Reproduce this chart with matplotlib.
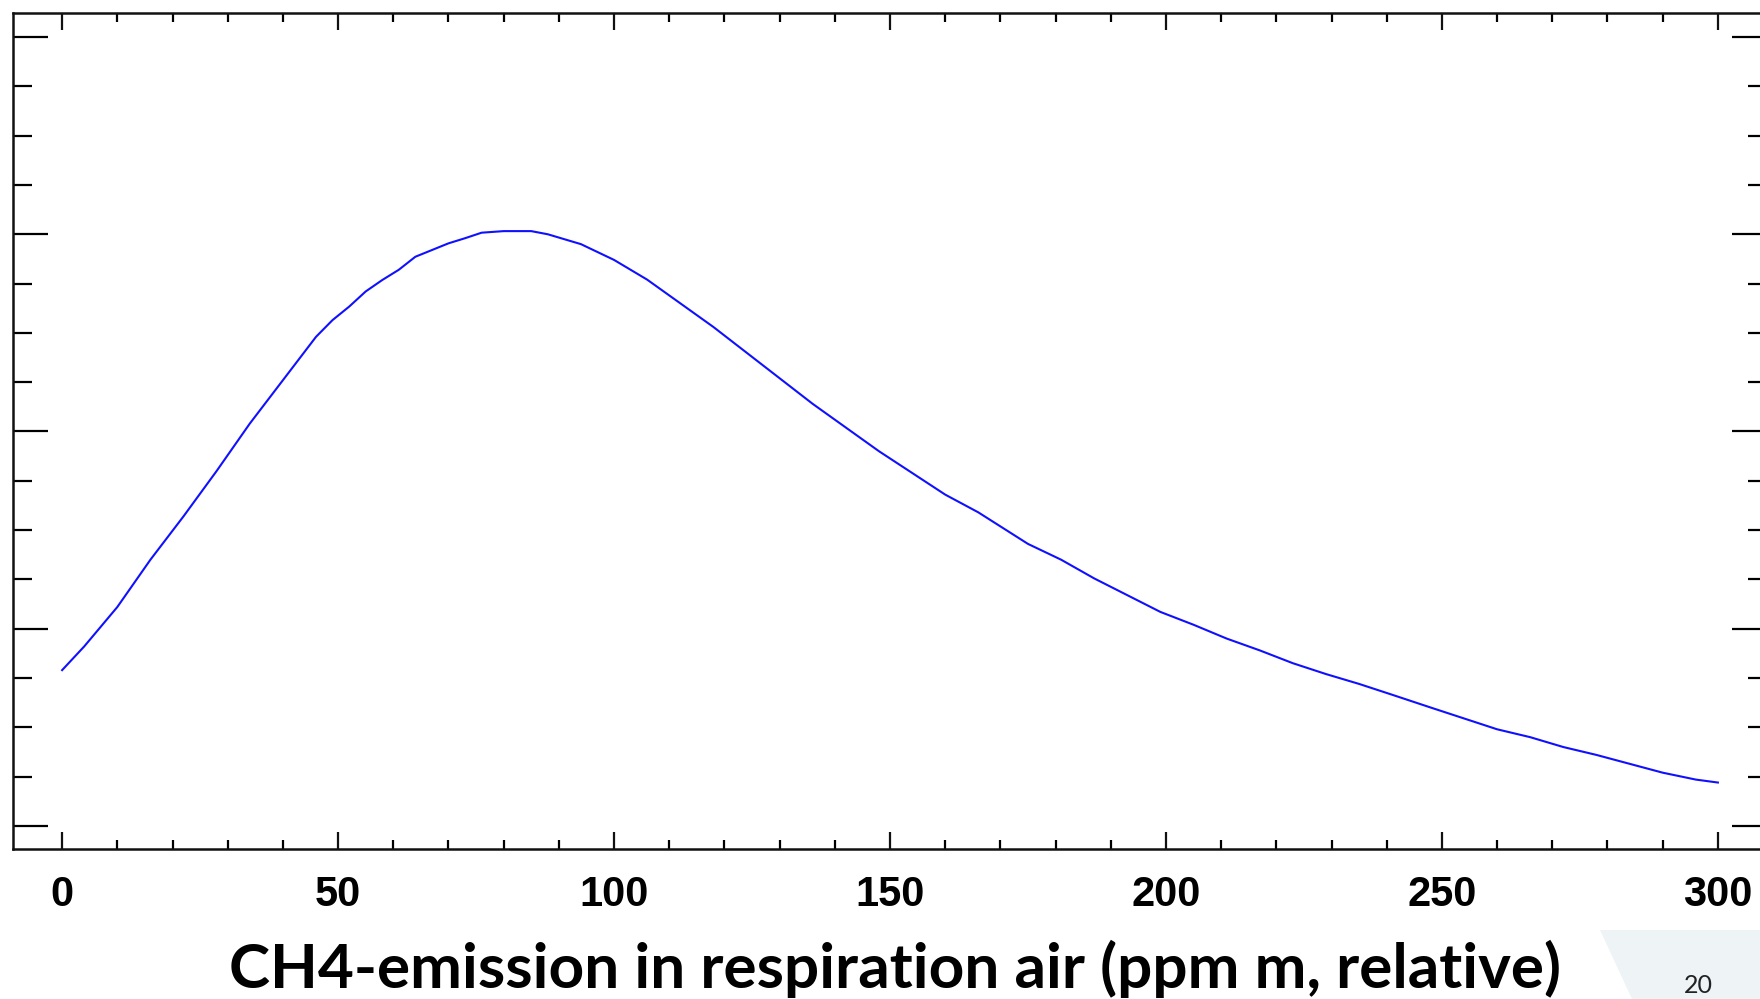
import matplotlib
matplotlib.use("Agg")
import matplotlib.pyplot as plt
from matplotlib.patches import Polygon
from matplotlib.ticker import MultipleLocator

# CH4 emission curve (relative units, 4 major y steps)
ppm = [0, 4, 10, 16, 22, 28, 34, 40, 46, 49, 52, 55, 58, 61, 64, 67, 70,
       73, 76, 80, 85, 88, 94, 100, 106, 112, 118, 124, 130, 136, 142, 148,
       154, 160, 166, 175, 181, 187, 193, 199, 205, 211, 217, 223, 229, 235,
       241, 248, 254, 260, 266, 272, 278, 284, 290, 296, 300]
level = [0.79, 0.91, 1.11, 1.35, 1.57, 1.80, 2.04, 2.26, 2.48, 2.565, 2.633,
         2.71, 2.768, 2.82, 2.886, 2.92, 2.954, 2.98, 3.008, 3.016, 3.016,
         3.00, 2.95, 2.87, 2.77, 2.65, 2.53, 2.40, 2.27, 2.14, 2.02, 1.90,
         1.79, 1.68, 1.59, 1.43, 1.35, 1.255, 1.17, 1.085, 1.02, 0.95, 0.89,
         0.825, 0.77, 0.72, 0.665, 0.60, 0.545, 0.49, 0.45, 0.40, 0.36, 0.315,
         0.27, 0.235, 0.22]

x_major = [0, 50, 100, 150, 200, 250, 300]
x_labels = [str(v) for v in x_major]
xlabel = "CH4-emission in respiration air (ppm m, relative)"
page_no = "20"

W, H = 1760, 999
fig = plt.figure(figsize=(W / 100, H / 100), dpi=100)

# axes box in pixels: left 13, right 1767 (just past the edge), top 13, bottom 849
left, right, top, bottom = 13, 1767, 13, 849
ax = fig.add_axes([left / W, (H - bottom) / H, (right - left) / W, (bottom - top) / H])

ax.plot(ppm, level, color="#1010ff", lw=1.5, solid_joinstyle="round")

ax.set_xlim(-8.9, 308.9)
ax.set_ylim(-0.117, 4.122)

ax.xaxis.set_major_locator(MultipleLocator(50))
ax.xaxis.set_minor_locator(MultipleLocator(10))
ax.yaxis.set_major_locator(MultipleLocator(1))
ax.yaxis.set_minor_locator(MultipleLocator(0.25))
ax.set_xticks(x_major)
ax.set_xticklabels(x_labels)

for s in ax.spines.values():
    s.set_linewidth(1.8)
    s.set_color("#111111")

ax.tick_params(axis="x", which="major", direction="in", length=12.2, width=1.6,
               top=True, bottom=True, pad=19, colors="#111111")
ax.tick_params(axis="x", which="minor", direction="in", length=6.5, width=1.6,
               top=True, bottom=True)
ax.tick_params(axis="y", which="major", direction="in", length=25, width=1.6,
               left=True, right=True, labelleft=False)
ax.tick_params(axis="y", which="minor", direction="in", length=13.7, width=1.6,
               left=True, right=True)
for lab in ax.get_xticklabels():
    lab.set_fontfamily("Liberation Sans")
    lab.set_fontweight("bold")
    lab.set_fontsize(30)
    lab.set_color("black")

# axis title, centred under the tick range
fig.text(895 / W, (H - 988) / H, xlabel, ha="center", va="baseline",
         fontsize=44.7, fontweight="bold", family="Lato", color="black")

# slide footer: grey slanted tab with page number
tab = Polygon([(1600 / W, (H - 930) / H), (1.0, (H - 930) / H),
               (1.0, 0.0), (1632 / W, 0.0)],
              closed=True, transform=fig.transFigure, facecolor="#eef3f6",
              edgecolor="none", zorder=0)
fig.patches.append(tab)
fig.text(1698 / W, (H - 993) / H, page_no, ha="center", va="baseline",
         fontsize=18, family="Lato", color="#222222")

fig.savefig("out.png", dpi=100)
